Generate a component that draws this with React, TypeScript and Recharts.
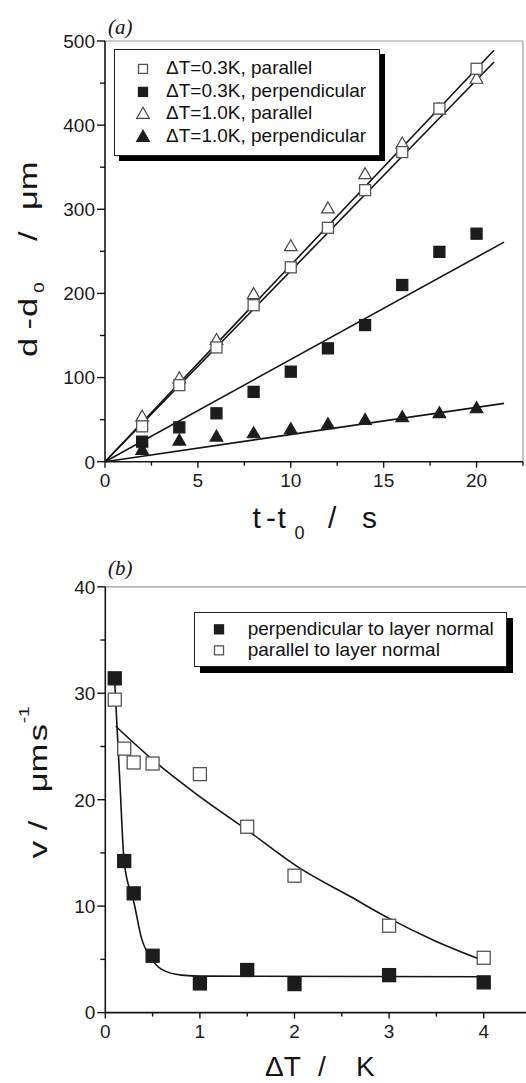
import { ComposedChart, Scatter, Line, XAxis, YAxis, ReferenceLine, Legend } from 'recharts'

// ─── Data: panel (a) ─────────────────────────────────────────────────

const timeA = [2, 4, 6, 8, 10, 12, 14, 16, 18, 20]
const par03 = [42, 91, 135.8, 186, 231, 278, 322.7, 368, 419.7, 467]
const perp03 = [23.8, 40.8, 57.5, 83, 107, 134.7, 162.4, 210, 249.4, 271]
const par10 = [53.5, 99, 144.5, 199, 256, 301, 341.7, 378, 418.5, 455]
const perp10 = [13.9, 25, 29.7, 33.7, 38.5, 44.4, 49.5, 52.7, 57.5, 63.4]

// linear fits, read at both ends
const fitParT = [0, 20.94]
const fitParUpper = [0, 489]
const fitParLower = [0, 475]
const fitPerpT = [0, 21.48]
const fitPerp03 = [0, 261]
const fitPerp10 = [0, 69.3]

const ticksYA = [0, 50, 100, 150, 200, 250, 300, 350, 400, 450, 500]
const ticksXA = [0, 2.5, 5, 7.5, 10, 12.5, 15, 17.5, 20, 22.5]
const legendLabelsA = ['ΔT=0.3K, parallel', 'ΔT=0.3K, perpendicular', 'ΔT=1.0K, parallel', 'ΔT=1.0K, perpendicular']

// ─── Data: panel (b) ─────────────────────────────────────────────────

const deltaT = [0.1, 0.2, 0.3, 0.5, 1, 1.5, 2, 3, 4]
const vPerp = [31.4, 14.24, 11.2, 5.34, 2.74, 4.0, 2.68, 3.52, 2.84]
const vPar = [29.4, 24.8, 23.5, 23.4, 22.4, 17.46, 12.86, 8.16, 5.15]

// fitted curves
const perpFitX = [0.1, 0.155, 0.201, 0.304, 0.385, 0.473, 0.596, 0.807, 1.02, 4.0]
const perpFitV = [31.0, 21.5, 14.0, 10.3, 6.9, 5.25, 4.06, 3.52, 3.43, 3.37]
const parFitX = [0.11, 0.508, 0.952, 1.498, 2.06, 2.59, 3.0, 3.47, 4.0]
const parFitV = [26.9, 23.7, 20.6, 17.15, 13.55, 10.9, 8.85, 6.8, 4.87]

const ticksYB = [0, 5, 10, 15, 20, 25, 30, 35, 40]
const ticksXB = [0, 0.5, 1, 1.5, 2, 2.5, 3, 3.5, 4, 4.5]
const legendLabelsB = ['perpendicular to layer normal', 'parallel to layer normal']

// ─── Helpers ─────────────────────────────────────────────────────────

const SANS = '"Liberation Sans", Arial, Helvetica, sans-serif'
const SERIF = '"Liberation Serif", "Times New Roman", serif'
const INK = '#141414'

const toPoints = (xs: number[], ys: number[]) => xs.map((x, i) => ({ x, y: ys[i] }))

type Kind = 'openSquare' | 'filledSquare' | 'openTriangle' | 'filledTriangle'

function Marker({ kind, cx, cy, size }: { kind: Kind; cx: number; cy: number; size: number }) {
    if (kind === 'openSquare' || kind === 'filledSquare') {
        const filled = kind === 'filledSquare'
        return (
            <rect x={cx - size / 2} y={cy - size / 2} width={size} height={size}
                fill={filled ? '#1c1c1c' : '#fff'} stroke={filled ? '#1c1c1c' : '#555'} strokeWidth={1.3} />
        )
    }
    const filled = kind === 'filledTriangle'
    const w = size * 1.15
    const h = size
    const pts = `${cx},${cy - h * 0.6} ${cx - w / 2},${cy + h * 0.4} ${cx + w / 2},${cy + h * 0.4}`
    return <polygon points={pts} fill={filled ? '#1c1c1c' : '#fff'} stroke={filled ? '#1c1c1c' : '#444'} strokeWidth={1.2} />
}

const shapeOf = (kind: Kind, size: number) => (p: any) => <Marker kind={kind} cx={p.cx} cy={p.cy} size={size} />

const isMultiple = (v: number, step: number) => Math.abs(v / step - Math.round(v / step)) < 1e-6

// y ticks: tickSize 8 + tickMargin 2 -> axis line sits at x + 10
const makeYTick = (step: number) => (props: any) => {
    const { x, y, payload } = props
    const ax = x + 10
    const major = isMultiple(payload.value, step)
    return (
        <g>
            <line x1={ax - (major ? 8 : 5)} x2={ax} y1={y} y2={y} stroke={INK} strokeWidth={1.4} />
            {major && (
                <text x={ax - 10} y={y} dy="0.36em" textAnchor="end" fontFamily={SANS} fontSize={19} fill="#1a1a1a">
                    {payload.value}
                </text>
            )}
        </g>
    )
}

// x ticks: tickSize 6 + tickMargin 2 -> axis line sits at y - 8
const makeXTick = (step: number) => (props: any) => {
    const { x, y, payload } = props
    const ay = y - 8
    const major = isMultiple(payload.value, step)
    return (
        <g>
            <line x1={x} x2={x} y1={ay} y2={ay + (major ? 6 : 4)} stroke={INK} strokeWidth={1.4} />
            {major && (
                <text x={x} y={ay + 25} textAnchor="middle" fontFamily={SANS} fontSize={19} fill="#1a1a1a">
                    {payload.value}
                </text>
            )}
        </g>
    )
}

// ─── Titles ──────────────────────────────────────────────────────────

function YTitleA() {
    return (
        <g>
            <text x={108} y={34} fontFamily={SERIF} fontStyle="italic" fontSize={21} fill={INK}>(a)</text>
            <g transform="translate(37,357) rotate(-90) scale(1.38,1)">
                <text fontFamily={SANS} fontSize={25} fill={INK}>
                    <tspan x={0} y={0}>d</tspan>
                    <tspan x={20} y={0}>-</tspan>
                    <tspan x={29} y={0}>d</tspan>
                    <tspan x={46.4} y={7} fontSize={14}>0</tspan>
                    <tspan x={84} y={0}>/</tspan>
                    <tspan x={106.5} y={0}>μm</tspan>
                </text>
            </g>
        </g>
    )
}

function XTitleA() {
    return (
        <text fontFamily={SANS} fontSize={30} fill={INK}>
            <tspan x={252.5} y={528.3}>t</tspan>
            <tspan x={266} y={528.3}>-</tspan>
            <tspan x={277.5} y={528.3}>t</tspan>
            <tspan x={294.5} y={539} fontSize={18}>0</tspan>
            <tspan x={328} y={528.3}>/</tspan>
            <tspan x={362} y={528.3}>s</tspan>
        </text>
    )
}

function YTitleB() {
    return (
        <g>
            <text x={108} y={35} fontFamily={SERIF} fontStyle="italic" fontSize={21} fill={INK}>(b)</text>
            <g transform="translate(46.7,318.3) rotate(-90) scale(1.38,1)">
                <text fontFamily={SANS} fontSize={25} fill={INK}>
                    <tspan x={0} y={0}>v</tspan>
                    <tspan x={20.3} y={0}>/</tspan>
                    <tspan x={47.8} y={0}>μm</tspan>
                    <tspan x={84.8} y={0}>s</tspan>
                    <tspan x={97.8} y={-18} fontSize={14}>-1</tspan>
                </text>
            </g>
        </g>
    )
}

function XTitleB() {
    return (
        <text fontFamily={SANS} fontSize={28} fill={INK}>
            <tspan x={265} y={536}>ΔT</tspan>
            <tspan x={318} y={536}>/</tspan>
            <tspan x={356} y={536}>K</tspan>
        </text>
    )
}

// ─── Legends ─────────────────────────────────────────────────────────

function LegendBox({ labels, kinds, sizes, rowH, padTop, symX, textX, shadow }: {
    labels: string[]; kinds: Kind[]; sizes: number[]; rowH: number; padTop: number; symX: number; textX: number; shadow: number
}) {
    return (
        <div style={{
            border: '1px solid #222', background: '#fff', boxShadow: `${shadow}px ${shadow}px 0 #000`,
            paddingTop: padTop, paddingBottom: padTop, boxSizing: 'border-box', fontFamily: SANS, fontSize: 19, color: '#111',
        }}>
            {labels.map((label, i) => (
                <div key={label} style={{ position: 'relative', height: rowH, lineHeight: `${rowH}px` }}>
                    <svg width={20} height={rowH} style={{ position: 'absolute', left: symX - 10, top: 0 }}>
                        <Marker kind={kinds[i]} cx={10} cy={rowH / 2 + 0.5} size={sizes[i]} />
                    </svg>
                    <span style={{ position: 'absolute', left: textX, top: 0, whiteSpace: 'nowrap' }}>{label}</span>
                </div>
            ))}
        </div>
    )
}

// ─── Component ───────────────────────────────────────────────────────

export default function App() {
    const axisLine = { stroke: INK, strokeWidth: 1.6 }
    const frame = '#9a9a9a'

    return (
        <div style={{ position: 'absolute', left: 0, top: 0, width: 526, height: 1083, overflow: 'hidden', background: '#fff' }}>
            <div style={{ position: 'absolute', left: 0, top: 0 }}>
                <ComposedChart width={526} height={546} margin={{ top: 41, right: 3, bottom: 54.3, left: 0 }}>
                    <XAxis dataKey="x" type="number" domain={[0, 22.5]} ticks={ticksXA} interval={0} height={30}
                        tickSize={6} tickMargin={2} tickLine={false} axisLine={axisLine} tick={makeXTick(5)} label={<XTitleA />} />
                    <YAxis dataKey="y" type="number" domain={[0, 500]} ticks={ticksYA} interval={0} width={105}
                        tickSize={8} tickMargin={2} tickLine={false} axisLine={axisLine} tick={makeYTick(100)} label={<YTitleA />} />
                    <ReferenceLine y={500} stroke={frame} strokeWidth={1.2} />
                    <ReferenceLine x={22.5} stroke={frame} strokeWidth={1.2} />
                    <Line data={toPoints(fitParT, fitParUpper)} dataKey="y" type="linear" stroke={INK} strokeWidth={1.6} dot={false} activeDot={false} isAnimationActive={false} />
                    <Line data={toPoints(fitParT, fitParLower)} dataKey="y" type="linear" stroke={INK} strokeWidth={1.6} dot={false} activeDot={false} isAnimationActive={false} />
                    <Line data={toPoints(fitPerpT, fitPerp03)} dataKey="y" type="linear" stroke={INK} strokeWidth={1.6} dot={false} activeDot={false} isAnimationActive={false} />
                    <Line data={toPoints(fitPerpT, fitPerp10)} dataKey="y" type="linear" stroke={INK} strokeWidth={1.6} dot={false} activeDot={false} isAnimationActive={false} />
                    <Scatter data={toPoints(timeA, perp10)} dataKey="y" shape={shapeOf('filledTriangle', 11)} isAnimationActive={false} />
                    <Scatter data={toPoints(timeA, perp03)} dataKey="y" shape={shapeOf('filledSquare', 11)} isAnimationActive={false} />
                    <Scatter data={toPoints(timeA, par10)} dataKey="y" shape={shapeOf('openTriangle', 11)} isAnimationActive={false} />
                    <Scatter data={toPoints(timeA, par03)} dataKey="y" shape={shapeOf('openSquare', 11)} isAnimationActive={false} />
                    <Legend layout="vertical" align="center" verticalAlign="middle"
                        wrapperStyle={{ left: 114, top: 49, width: 266, height: 104 }}
                        content={() => (
                            <LegendBox labels={legendLabelsA}
                                kinds={['openSquare', 'filledSquare', 'openTriangle', 'filledTriangle']}
                                sizes={[9, 9, 11, 11]} rowH={22.8} padTop={6.9} symX={27.7} textX={51} shadow={5} />
                        )} />
                </ComposedChart>
            </div>

            <div style={{ position: 'absolute', left: 0, top: 540 }}>
                <ComposedChart width={534} height={543} margin={{ top: 46.8, right: 3, bottom: 40.4, left: 0 }}>
                    <XAxis dataKey="x" type="number" domain={[0, 4.5]} ticks={ticksXB} interval={0} height={30}
                        tickSize={6} tickMargin={2} tickLine={false} axisLine={axisLine} tick={makeXTick(1)} label={<XTitleB />} />
                    <YAxis dataKey="y" type="number" domain={[0, 40]} ticks={ticksYB} interval={0} width={105.3}
                        tickSize={8} tickMargin={2} tickLine={false} axisLine={axisLine} tick={makeYTick(10)} label={<YTitleB />} />
                    <ReferenceLine y={40} stroke={frame} strokeWidth={1.2} />
                    <Line data={toPoints(parFitX, parFitV)} dataKey="y" type="monotone" stroke={INK} strokeWidth={1.6} dot={false} activeDot={false} isAnimationActive={false} />
                    <Line data={toPoints(perpFitX, perpFitV)} dataKey="y" type="monotone" stroke={INK} strokeWidth={1.6} dot={false} activeDot={false} isAnimationActive={false} />
                    <Scatter data={toPoints(deltaT, vPar)} dataKey="y" shape={shapeOf('openSquare', 13)} isAnimationActive={false} />
                    <Scatter data={toPoints(deltaT, vPerp)} dataKey="y" shape={shapeOf('filledSquare', 13)} isAnimationActive={false} />
                    <Legend layout="vertical" align="center" verticalAlign="middle"
                        wrapperStyle={{ left: 194, top: 72, width: 313, height: 54 }}
                        content={() => (
                            <LegendBox labels={legendLabelsB} kinds={['filledSquare', 'openSquare']}
                                sizes={[9, 9]} rowH={21.7} padTop={4.6} symX={24.3} textX={52.7} shadow={6} />
                        )} />
                </ComposedChart>
            </div>
        </div>
    )
}
